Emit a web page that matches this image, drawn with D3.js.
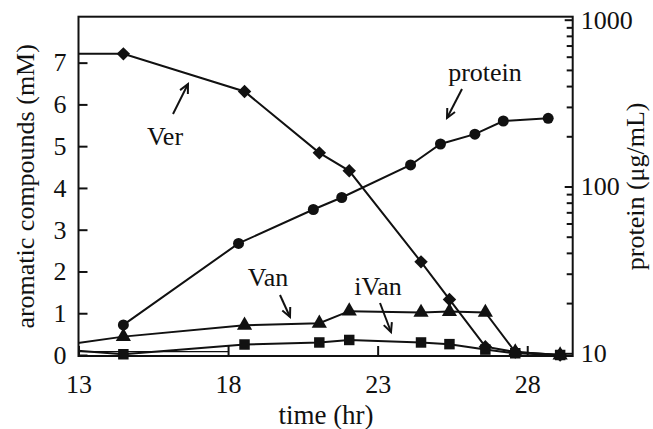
<!DOCTYPE html>
<html><head><meta charset="utf-8">
<script src="https://cdn.jsdelivr.net/npm/d3@7"></script>
<style>html,body{margin:0;padding:0;background:#fff;}svg{display:block;}</style>
</head><body>
<svg id="chart" width="653" height="429"></svg>
<script>
// ---- data ----
// first time point lies before the plotted range (line enters from the left edge)
const times = [12, 14.5, 18.55, 21.05, 22.05, 24.45, 25.4, 26.6, 27.6, 29.1];
const ver   = [7.21, 7.21, 6.31, 4.84, 4.41, 2.23, 1.33, 0.20, 0.07, 0.0];
const van   = [0.19, 0.44, 0.71, 0.76, 1.05, 1.02, 1.04, 1.02, 0.07, 0.0];
const ivan  = [0.15, 0.02, 0.25, 0.30, 0.36, 0.30, 0.26, 0.13, 0.04, 0.0];
const proteinTimes = [14.5, 18.35, 20.85, 21.8, 24.1, 25.1, 26.25, 27.2, 28.7];
const protein      = [14.8, 45.6, 72.8, 85.9, 134.6, 179.8, 205.9, 247, 256.5];
const xTicks = [13, 18, 23, 28];
const yLeftTicks = [0, 1, 2, 3, 4, 5, 6, 7];
const yRightTicks = [10, 100, 1000];
const yRightMinor = [20,30,40,50,60,70,80,90,200,300,400,500,600,700,800,900];

const svg = d3.select("#chart");
const L = 78.5, R = 572.7, T = 16.7, B = 356;
const x = d3.scaleLinear().domain([13, 29.52]).range([L, R]);
const y = d3.scaleLinear().domain([0, 8.1]).range([355, T]);
const yr = d3.scaleLog().domain([10, 1000]).range([353.3, 19.7]);
const font = "Liberation Serif, Times New Roman, serif";
const ink = "#111";
const FS = 26;

svg.append("defs").append("clipPath").attr("id","clip")
  .append("rect").attr("x", L).attr("y", T).attr("width", R-L).attr("height", B-T+7);

// axes
const gx = svg.append("g").attr("transform", `translate(0,${B})`)
  .call(d3.axisBottom(x).tickValues(xTicks).tickSizeInner(-10).tickSizeOuter(0).tickPadding(23).tickFormat(d3.format("d")));
const gl = svg.append("g").attr("transform", `translate(${L},0)`)
  .call(d3.axisLeft(y).tickValues(yLeftTicks).tickSizeInner(-9).tickSizeOuter(0).tickPadding(12).tickFormat(d3.format("d")));
const gr = svg.append("g").attr("transform", `translate(${R},0)`)
  .call(d3.axisRight(yr).tickValues(yRightTicks).tickSizeInner(-8).tickSizeOuter(0).tickPadding(8).tickFormat(d3.format("d")));
const grm = svg.append("g").attr("transform", `translate(${R},0)`)
  .call(d3.axisRight(yr).tickValues(yRightMinor).tickSizeInner(-6).tickSizeOuter(0).tickFormat(""));
[gx, gl, gr, grm].forEach(g => {
  g.select(".domain").remove();
  g.selectAll("line").attr("stroke", ink).attr("stroke-width", 2);
  g.selectAll("text").attr("font-family", font).attr("font-size", FS).attr("fill", ink);
});
gx.selectAll("text").attr("dy", "0.55em");

// frame
svg.append("rect").attr("x", L).attr("y", T).attr("width", R-L).attr("height", B-T)
  .attr("fill","none").attr("stroke", ink).attr("stroke-width", 2);
// thin baseline segment near the bottom-left (as in the original)
svg.append("line").attr("x1", L).attr("x2", x(18)).attr("y1", B-4.3).attr("y2", B-4.3)
  .attr("stroke", ink).attr("stroke-width", 1.2);

// series
const plot = svg.append("g").attr("clip-path", "url(#clip)");
const lineL = d3.line().x(d => x(d[0])).y(d => y(d[1]));
const lineR = d3.line().x(d => x(d[0])).y(d => yr(d[1]));
const series = [
  {vals: ver, sym: d3.symbolDiamond2, size: 115},
  {vals: van, sym: d3.symbolTriangle, size: 100},
  {vals: ivan, sym: d3.symbolSquare, size: 110},
];
series.forEach(s => {
  const pts = times.map((t, i) => [t, s.vals[i]]);
  plot.append("path").attr("d", lineL(pts)).attr("fill","none").attr("stroke", ink).attr("stroke-width", 2);
  plot.selectAll(null).data(pts).join("path")
    .attr("transform", d => `translate(${x(d[0])},${y(d[1])})`)
    .attr("d", d3.symbol().type(s.sym).size(s.size)).attr("fill", ink);
});
const ppts = proteinTimes.map((t, i) => [t, protein[i]]);
plot.append("path").attr("d", lineR(ppts)).attr("fill","none").attr("stroke", ink).attr("stroke-width", 2);
plot.selectAll(null).data(ppts).join("circle")
  .attr("cx", d => x(d[0])).attr("cy", d => yr(d[1])).attr("r", 5.5).attr("fill", ink);

// annotations
function arrow(x1, y1, x2, y2) {
  svg.append("line").attr("x1", x1).attr("y1", y1).attr("x2", x2).attr("y2", y2)
    .attr("stroke", ink).attr("stroke-width", 2);
  const a = Math.atan2(y2 - y1, x2 - x1), h = 10, w = 0.45;
  const p = [[x2 - h*Math.cos(a - w), y2 - h*Math.sin(a - w)], [x2, y2], [x2 - h*Math.cos(a + w), y2 - h*Math.sin(a + w)]];
  svg.append("path").attr("d", d3.line()(p)).attr("fill","none").attr("stroke", ink).attr("stroke-width", 2);
}
function label(txt, cx, cy) {
  svg.append("text").attr("x", cx).attr("y", cy).attr("text-anchor","middle").attr("dy","0.35em")
    .attr("font-family", font).attr("font-size", FS).attr("fill", ink).text(txt);
}
label("Ver", 165, 136); arrow(173, 114, 188, 84);
label("protein", 485, 72); arrow(462, 89, 447, 118);
label("Van", 268, 277); arrow(280, 295, 290, 317);
label("iVan", 378, 286); arrow(380, 303, 391, 332);

// axis titles
svg.append("text").attr("transform", `translate(25,${(T+B)/2}) rotate(-90)`).attr("text-anchor","middle")
  .attr("dy","0.35em").attr("font-family", font).attr("font-size", FS).attr("fill", ink).text("aromatic compounds (mM)");
svg.append("text").attr("transform", `translate(635,${(T+B)/2}) rotate(-90)`).attr("text-anchor","middle")
  .attr("dy","0.35em").attr("font-family", font).attr("font-size", FS).attr("fill", ink).text("protein (μg/mL)");
svg.append("text").attr("x", 326).attr("y", 415).attr("text-anchor","middle").attr("dy","0.35em")
  .attr("font-family", font).attr("font-size", 27).attr("fill", ink).text("time (hr)");
</script>
</body></html>
